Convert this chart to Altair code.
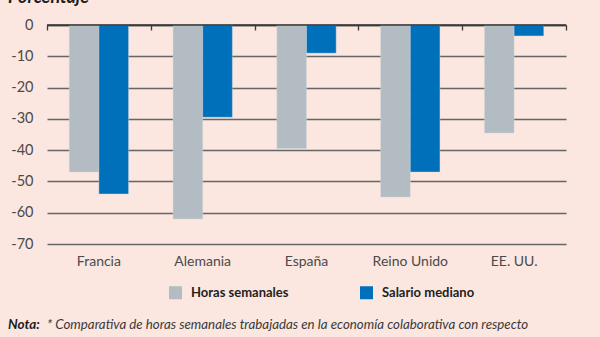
import altair as alt
import pandas as pd

countries = ["Francia", "Alemania", "España", "Reino Unido", "EE. UU."]
horas = [-47, -62, -39.5, -55, -34.5]
salario = [-54, -29.5, -9, -47, -3.5]
series = ["Horas semanales", "Salario mediano"]
colors = ["#B2BCC2", "#0070BA"]
y_ticks = [0, -10, -20, -30, -40, -50, -60, -70]

rows = []
for c, h, s in zip(countries, horas, salario):
    rows.append({"pais": c, "serie": series[0], "valor": h})
    rows.append({"pais": c, "serie": series[1], "valor": s})
df = pd.DataFrame(rows)

W, H = 519, 219
FONT = "Lato"

yscale = alt.Scale(domain=[-70, 0], nice=False, zero=False)

bars = alt.Chart(df).mark_bar(stroke="#d6dde0", strokeWidth=0.4).encode(
    x=alt.X("pais:N", sort=countries,
            scale=alt.Scale(paddingInner=0, paddingOuter=0),
            axis=alt.Axis(title=None, orient="bottom", domain=False, ticks=False,
                          tickSize=0, labelPadding=10, labelFont=FONT,
                          labelFontSize=14, labelColor="#4a4a4a", labelAngle=0,
                          grid=False)),
    xOffset=alt.XOffset("serie:N", sort=series,
                        scale=alt.Scale(paddingInner=0, paddingOuter=0.75)),
    y=alt.Y("valor:Q", scale=yscale,
            axis=alt.Axis(title=None, values=y_ticks, domain=False, ticks=False,
                          tickSize=0, labelPadding=14, labelFont=FONT,
                          labelFontSize=14.5, labelColor="#4a4a4a", labelOverlap=False,
                          labelExpr="datum.value == 0 ? '0' : '-' + abs(datum.value)",
                          grid=True, gridColor="#666666", gridWidth=1.4)),
    color=alt.Color("serie:N", sort=series,
                    scale=alt.Scale(domain=series, range=colors),
                    legend=alt.Legend(title=None, orient="none", direction="horizontal",
                                      legendX=122, legendY=261, padding=0,
                                      symbolType="square", symbolSize=169,
                                      symbolStrokeWidth=0, labelOffset=9,
                                      columnPadding=71, labelFont=FONT,
                                      labelFontSize=13, labelFontWeight="bold",
                                      labelColor="#1e1e1e")),
)

zero = alt.Chart(pd.DataFrame({"a": [0], "b": [5], "v": [0]})).mark_rule(
    color="#3a3a3a", strokeWidth=1.3
).encode(
    x=alt.X("a:Q", scale=alt.Scale(domain=[0, 5], nice=False, zero=False),
            axis=alt.Axis(title=None, orient="bottom", offset=-H, values=[0, 1, 2, 3, 4, 5],
                          labels=False, tickSize=5, tickColor="#3a3a3a", tickWidth=1.3,
                          domainColor="#3a3a3a", domainWidth=1.3, grid=False)),
    x2="b:Q",
    y=alt.Y("v:Q", scale=yscale, axis=None),
)

note_df = pd.DataFrame({"k": [0]})
title_text = alt.Chart(note_df).mark_text(
    text="Porcentaje", align="left", baseline="alphabetic", font=FONT, fontSize=18,
    fontStyle="italic", fontWeight="bold", color="#1e1e1e"
).encode(x=alt.value(-39), y=alt.value(-22))
nota_bold = alt.Chart(note_df).mark_text(
    text="Nota:", align="left", baseline="alphabetic", font=FONT, fontSize=13.5,
    fontStyle="italic", fontWeight="bold", color="#1e1e1e"
).encode(x=alt.value(-39), y=alt.value(304))
nota_text = alt.Chart(note_df).mark_text(
    text="* Comparativa de horas semanales trabajadas en la economía colaborativa con respecto",
    align="left", baseline="alphabetic", font=FONT, fontSize=13.3,
    fontStyle="italic", color="#3a3a3a"
).encode(x=alt.value(0), y=alt.value(304))

chart = alt.layer(bars, zero, title_text, nota_bold, nota_text).resolve_scale(
    x="independent"
).resolve_axis(
    x="independent", y="independent"
).properties(
    width=W, height=H,
    padding={"left": 47, "top": 25, "right": 34, "bottom": 93},
    autosize=alt.AutoSizeParams(type="none"),
    background="#FBE6E0",
).configure_view(stroke=None)

chart.save("out.html", embed_options={"renderer": "svg", "actions": False})
